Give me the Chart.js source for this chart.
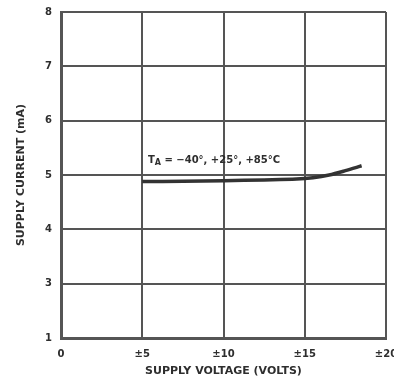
<!DOCTYPE html>
<html>
<head>
<meta charset="utf-8">
<script src="https://cdn.jsdelivr.net/npm/chart.js@4"></script>
<style>
  html, body { margin: 0; padding: 0; background: #fff; }
  #wrap { width: 394px; height: 384px; position: relative; }
</style>
</head>
<body>
<div id="wrap"><canvas id="myChart" width="394" height="384"></canvas></div>
<script>
// supply voltage (±V) vs supply current (mA)
const voltage = [5, 7.5, 10, 12.5, 14.5, 15.5, 16.5, 17.5, 18.5]
const current = [4.88, 4.885, 4.895, 4.91, 4.925, 4.95, 5.0, 5.08, 5.17]

const xTicks = [0, 5, 10, 15, 20]
const xTickText = ["0", "±5", "±10", "±15", "±20"]
const yTicks = [2, 3, 4, 5, 6, 7, 8]
const yTickText = ["1", "3", "4", "5", "6", "7", "8"]

const note = { x: 5.35, y: 5.27, t: "T", sub: "A", rest: " = −40°, +25°, +85°C" }

const ink = "#2e2e2e"
const gridInk = "#555"
const tickFont = { family: "DejaVu Sans", weight: "bold", size: 10 }
const titleFont = { family: "DejaVu Sans", weight: "bold", size: 11 }

// draws the temperature note next to the curve
const notePlugin = {
    id: "note",
    afterDatasetsDraw(chart) {
        let ctx = chart.ctx
        let px = chart.scales.x.getPixelForValue(note.x)
        let py = chart.scales.y.getPixelForValue(note.y)
        ctx.save()
        ctx.fillStyle = ink
        ctx.textBaseline = "middle"
        ctx.font = "bold 10px 'DejaVu Sans'"
        ctx.fillText(note.t, px, py)
        let w = ctx.measureText(note.t).width
        ctx.font = "bold 8px 'DejaVu Sans'"
        ctx.fillText(note.sub, px + w, py + 3)
        let w2 = ctx.measureText(note.sub).width
        ctx.font = "bold 10px 'DejaVu Sans'"
        ctx.fillText(note.rest, px + w + w2, py)
        ctx.restore()
    }
}

new Chart("myChart", {
    type: "line",
    data: {
        datasets: [{
            data: voltage.map((v, i) => ({ x: v, y: current[i] })),
            borderColor: "#333",
            borderWidth: 3.5,
            pointRadius: 0,
            tension: 0.3,
            fill: false
        }]
    },
    options: {
        responsive: false,
        animation: false,
        layout: { padding: { top: 12, right: 8, left: 0, bottom: 0 } },
        plugins: { legend: { display: false }, tooltip: { enabled: false } },
        scales: {
            x: {
                type: "linear",
                min: 0,
                max: 20,
                afterFit(scale) {
                    scale.height = 46
                    scale.paddingLeft = 0
                    scale.paddingRight = 0
                },
                afterBuildTicks(scale) { scale.ticks = xTicks.map(v => ({ value: v })) },
                ticks: {
                    color: ink,
                    font: tickFont,
                    padding: 10,
                    maxRotation: 0,
                    callback: (v) => xTickText[xTicks.indexOf(v)]
                },
                grid: { color: gridInk, lineWidth: 2, drawTicks: false },
                border: { color: gridInk, width: 3 },
                title: {
                    display: true,
                    text: "SUPPLY VOLTAGE (VOLTS)",
                    color: ink,
                    font: titleFont,
                    padding: { top: 0, bottom: 6 }
                }
            },
            y: {
                min: 2,
                max: 8,
                afterFit(scale) {
                    scale.width = 61
                    scale.paddingTop = 0
                    scale.paddingBottom = 0
                },
                afterBuildTicks(scale) { scale.ticks = yTicks.map(v => ({ value: v })) },
                ticks: {
                    color: ink,
                    font: tickFont,
                    padding: 9,
                    callback: (v) => yTickText[yTicks.indexOf(v)]
                },
                grid: { color: gridInk, lineWidth: 2, drawTicks: false },
                border: { color: gridInk, width: 3 },
                title: {
                    display: true,
                    text: "SUPPLY CURRENT (mA)",
                    color: ink,
                    font: titleFont,
                    padding: { top: 15, bottom: 0 }
                }
            }
        }
    },
    plugins: [notePlugin]
})
</script>
</body>
</html>
